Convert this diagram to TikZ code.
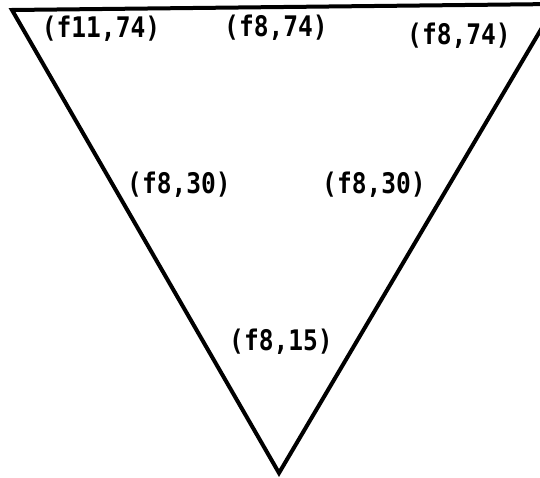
\documentclass[tikz,border=0pt]{standalone}
\usepackage{fontspec}
\newfontfamily\labelfont{DejaVu Sans Mono}
\usetikzlibrary{positioning}

\begin{document}
\begin{tikzpicture}[
  x=1pt, y=-1pt,
  edge/.style={draw, line width=4pt, line join=miter},
  tag/.style={font=\labelfont\bfseries\fontsize{27}{29}\selectfont, inner sep=0pt, xscale=0.91, yscale=1.05}
]
\useasboundingbox (0,0) rectangle (540,478);
\clip (0,0) rectangle (540,478);
\coordinate (tl) at (12,10);
\coordinate (tr) at (556,4);
\coordinate (bot) at (279,473);
\draw[edge] (tl) -- (tr) -- (bot) -- cycle;

\node[tag] (top1) at (101,29) {(f11,74)};
\node[tag] (top2) at (276,28) {(f8,74)};
\node[tag] (top3) at (459,36) {(f8,74)};
\node[tag] (mid1) at (179,185) {(f8,30)};
\node[tag] (mid2) at (374,185) {(f8,30)};
\node[tag] (low) at (281,342) {(f8,15)};
\end{tikzpicture}
\end{document}
